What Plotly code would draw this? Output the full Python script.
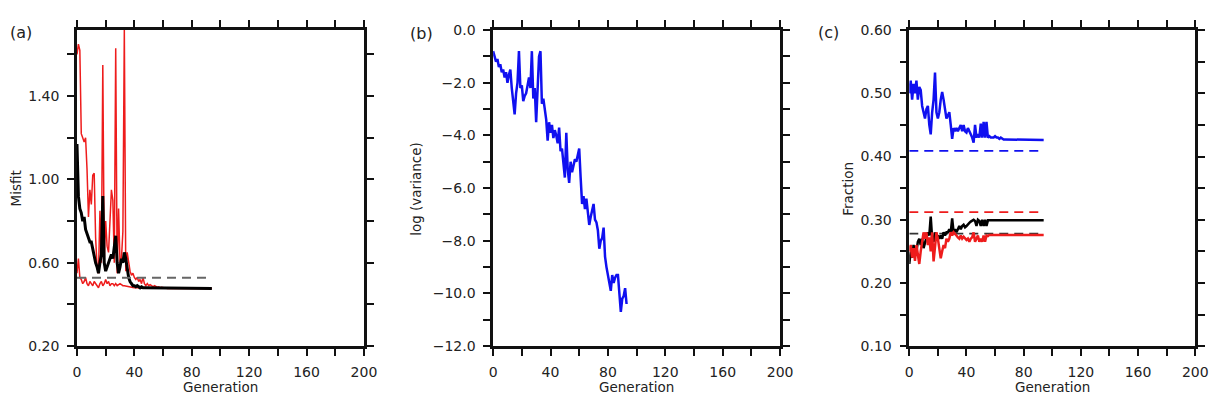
import plotly.graph_objects as go

W, H = 1226, 406

generations = list(range(95))
generations_b = list(range(94))

# Panel (a): misfit
misfit_black = [1.17,0.92,0.86,0.84,0.80,0.82,0.76,0.74,0.72,0.70,
                0.70,0.66,0.64,0.60,0.58,0.55,0.60,0.64,0.92,0.60,
                0.56,0.58,0.61,0.63,0.64,0.62,0.68,0.73,0.60,0.55,
                0.58,0.62,0.60,0.65,0.62,0.57,0.53,0.51,0.50,0.49,
                0.49,0.485,0.49,0.485,0.48,0.485,0.48,0.48,0.48,0.478,
                0.478,0.478,0.478,0.477,0.478,0.477,0.477,0.477,0.477,0.477,
                0.477,0.477,0.477,0.477,0.477,0.477,0.477,0.477,0.477,0.477,
                0.477,0.477,0.477,0.477,0.477,0.477,0.477,0.477,0.477,0.477,
                0.477,0.477,0.477,0.477,0.477,0.477,0.477,0.477,0.477,0.477,
                0.477,0.477,0.477,0.477,0.477]
misfit_red_upper = [1.60,1.65,1.62,1.22,1.20,1.18,1.20,1.05,0.82,0.95,
                    0.88,1.02,1.03,0.72,0.58,0.55,0.85,0.60,1.55,0.62,
                    0.80,0.68,0.65,0.78,0.95,0.90,0.60,1.63,0.55,0.86,
                    0.60,0.62,0.75,1.717,0.56,0.65,0.60,0.56,0.54,0.55,
                    0.53,0.52,0.53,0.51,0.52,0.50,0.53,0.50,0.49,0.50,
                    0.49,0.495,0.49,0.485,0.49,0.485,0.483,0.485,0.48,0.482,
                    0.48,0.479,0.478,0.477,0.477,0.477,0.477,0.477,0.477,0.477,
                    0.477,0.477,0.477,0.477,0.477,0.477,0.477,0.477,0.477,0.477,
                    0.477,0.477,0.477,0.477,0.477,0.477,0.477,0.477,0.477,0.477,
                    0.477,0.477,0.477,0.477,0.477]
misfit_red_lower = [0.55,0.62,0.53,0.52,0.50,0.51,0.53,0.50,0.49,0.51,
                    0.50,0.49,0.51,0.50,0.49,0.48,0.50,0.51,0.49,0.50,
                    0.52,0.50,0.51,0.49,0.50,0.50,0.49,0.50,0.49,0.495,
                    0.50,0.495,0.49,0.49,0.488,0.486,0.485,0.483,0.482,0.481,
                    0.48,0.48,0.479,0.479,0.478,0.478,0.478,0.478,0.478,0.478,
                    0.477,0.477,0.477,0.477,0.477,0.477,0.477,0.477,0.477,0.477,
                    0.477,0.477,0.477,0.477,0.477,0.477,0.477,0.477,0.477,0.477,
                    0.477,0.477,0.477,0.477,0.477,0.477,0.477,0.477,0.477,0.477,
                    0.477,0.477,0.477,0.477,0.477,0.477,0.477,0.477,0.477,0.477,
                    0.477,0.477,0.477,0.477,0.477]
misfit_ref = 0.528

# Panel (b): log(variance)
log_variance = [-0.8,-1.0,-1.2,-1.1,-1.4,-1.3,-1.6,-1.5,-1.8,-1.6,
                -2.0,-1.7,-1.5,-2.2,-2.8,-3.2,-2.4,-2.0,-0.8,-2.2,
                -2.1,-2.7,-2.5,-2.4,-2.1,-1.8,-2.2,-0.8,-2.6,-2.2,
                -3.5,-2.3,-1.0,-0.8,-2.8,-2.6,-3.0,-3.4,-4.2,-3.5,
                -3.9,-3.6,-4.1,-3.8,-4.0,-4.3,-3.7,-4.6,-4.5,-5.0,
                -5.6,-3.9,-5.3,-5.8,-5.0,-5.4,-5.1,-4.9,-5.0,-4.8,
                -4.5,-5.6,-6.6,-6.3,-6.8,-6.4,-7.0,-7.4,-7.1,-6.9,
                -6.6,-7.2,-7.3,-7.6,-8.3,-8.0,-7.9,-7.5,-8.6,-9.0,
                -9.3,-9.6,-9.9,-9.3,-9.6,-9.4,-9.3,-9.3,-10.0,-10.7,
                -10.2,-10.1,-9.8,-10.4]

# Panel (c): fractions
frac_blue = [0.50,0.52,0.49,0.515,0.50,0.52,0.49,0.51,0.505,0.48,
             0.47,0.46,0.475,0.48,0.45,0.435,0.47,0.49,0.533,0.47,
             0.46,0.47,0.49,0.502,0.49,0.47,0.46,0.465,0.47,0.45,
             0.428,0.445,0.44,0.445,0.44,0.445,0.45,0.44,0.45,0.44,
             0.438,0.445,0.44,0.435,0.43,0.422,0.45,0.43,0.435,0.43,
             0.452,0.43,0.455,0.43,0.455,0.43,0.432,0.43,0.43,0.43,
             0.432,0.43,0.43,0.428,0.43,0.428,0.427,0.427,0.427,0.427,
             0.427,0.427,0.426,0.426,0.426,0.426,0.426,0.426,0.426,0.426,
             0.426,0.426,0.426,0.426,0.426,0.426,0.426,0.426,0.426,0.426,
             0.426,0.426,0.426,0.426,0.426]
frac_black = [0.23,0.25,0.24,0.26,0.245,0.25,0.265,0.27,0.26,0.27,
              0.255,0.265,0.27,0.28,0.275,0.305,0.27,0.265,0.28,0.27,
              0.275,0.27,0.275,0.27,0.28,0.275,0.28,0.28,0.285,0.28,
              0.302,0.28,0.285,0.28,0.285,0.29,0.285,0.29,0.292,0.288,
              0.29,0.293,0.295,0.297,0.298,0.30,0.298,0.29,0.30,0.298,
              0.29,0.30,0.29,0.30,0.29,0.299,0.299,0.299,0.299,0.299,
              0.299,0.299,0.299,0.299,0.299,0.299,0.299,0.299,0.299,0.299,
              0.299,0.299,0.299,0.299,0.299,0.299,0.299,0.299,0.299,0.299,
              0.299,0.299,0.299,0.299,0.299,0.299,0.299,0.299,0.299,0.299,
              0.299,0.299,0.299,0.299,0.299]
frac_red = [0.25,0.26,0.24,0.255,0.235,0.26,0.245,0.23,0.25,0.27,
            0.28,0.27,0.28,0.26,0.272,0.25,0.28,0.234,0.26,0.28,
            0.27,0.25,0.239,0.25,0.26,0.255,0.27,0.265,0.27,0.28,
            0.275,0.28,0.278,0.275,0.272,0.27,0.275,0.27,0.273,0.27,
            0.268,0.27,0.265,0.27,0.272,0.28,0.265,0.27,0.275,0.265,
            0.27,0.265,0.275,0.265,0.275,0.274,0.276,0.276,0.276,0.276,
            0.276,0.276,0.276,0.276,0.276,0.276,0.276,0.276,0.276,0.276,
            0.276,0.276,0.276,0.276,0.276,0.276,0.276,0.276,0.276,0.276,
            0.276,0.276,0.276,0.276,0.276,0.276,0.276,0.276,0.276,0.276,
            0.276,0.276,0.276,0.276,0.276]
frac_ref_blue = 0.409
frac_ref_red = 0.312
frac_ref_black = 0.278

gen_ticks = [0, 20, 40, 60, 80, 100, 120, 140, 160, 180, 200]
gen_labels = ["0", "", "40", "", "80", "", "120", "", "160", "", "200"]
misfit_ticks = [0.2, 0.4, 0.6, 0.8, 1.0, 1.2, 1.4, 1.6]
misfit_labels = ["0.20", "", "0.60", "", "1.00", "", "1.40", ""]
var_ticks = [-12, -11, -10, -9, -8, -7, -6, -5, -4, -3, -2, -1, 0]
var_labels = ["\u221212.0", "", "\u221210.0", "", "\u22128.0", "", "\u22126.0", "", "\u22124.0", "", "\u22122.0", "", "0.0"]
frac_ticks = [0.10, 0.15, 0.20, 0.25, 0.30, 0.35, 0.40, 0.45, 0.50, 0.55, 0.60]
frac_labels = ["0.10", "", "0.20", "", "0.30", "", "0.40", "", "0.50", "", "0.60"]

FONT = "DejaVu Sans"
RED = "#ee1c1c"
BLUE = "#1010f0"
DASH = "9px,6px"

fig = go.Figure()

def line(x, y, ax, color, width, dash=None):
    fig.add_trace(go.Scatter(x=x, y=y, xaxis="x" + ax, yaxis="y" + ax, mode="lines",
                             line=dict(color=color, width=width, dash=dash),
                             showlegend=False, hoverinfo="skip"))

gx = [generations[0], generations[-1]]
# (a)
line(generations, misfit_red_upper, "", RED, 1.5)
line(generations, misfit_red_lower, "", RED, 1.5)
line(generations, misfit_black, "", "black", 3)
line(gx, [misfit_ref, misfit_ref], "", "#666666", 2, DASH)
# (b)
line(generations_b, log_variance, "2", BLUE, 2.5)
# (c)
line(gx, [frac_ref_blue, frac_ref_blue], "3", BLUE, 1.8, DASH)
line(gx, [frac_ref_red, frac_ref_red], "3", RED, 1.8, DASH)
line(gx, [frac_ref_black, frac_ref_black], "3", "#333333", 1.8, DASH)
line(generations, frac_blue, "3", BLUE, 2.5)
line(generations, frac_black, "3", "black", 2.5)
line(generations, frac_red, "3", RED, 2.5)

def px_x(p):
    return p / W

def px_y(p):
    return 1 - p / H

common = dict(showline=True, linecolor="#111111", linewidth=2.5, mirror="allticks",
              ticks="outside", ticklen=7, tickwidth=2, tickcolor="#111111",
              showgrid=False, zeroline=False, fixedrange=True,
              tickfont=dict(family=FONT, size=14, color="#222222"))

ydom = [px_y(352), px_y(23)]
xdoms = [[px_x(74), px_x(365)], [px_x(496), px_x(787)], [px_x(918), px_x(1208)]]

layout = dict(width=W, height=H, autosize=False, margin=dict(l=0, r=0, t=0, b=0),
              paper_bgcolor="white", plot_bgcolor="white", showlegend=False)

ymax_a = max(misfit_red_upper)
yspecs = [
    dict(range=[0.2, ymax_a], tickvals=misfit_ticks, ticktext=misfit_labels),
    dict(range=[-12, 0], tickvals=var_ticks, ticktext=var_labels),
    dict(range=[0.1, 0.6], tickvals=frac_ticks, ticktext=frac_labels),
]
for i, suf in enumerate(["", "2", "3"]):
    layout["xaxis" + suf] = dict(common, domain=xdoms[i], range=[0, 200], tickvals=gen_ticks,
                                 ticktext=gen_labels, anchor="y" + suf, ticklabelstandoff=4)
    layout["yaxis" + suf] = dict(common, domain=ydom, anchor="x" + suf, ticklabelstandoff=5,
                                 **yspecs[i])

annotations = []
def ann(text, x, y, size, angle=0):
    annotations.append(dict(text=text, x=px_x(x), y=px_y(y), xref="paper", yref="paper",
                            showarrow=False, textangle=angle, xanchor="center", yanchor="middle",
                            borderpad=0,
                            font=dict(family=FONT, size=size, color="#222222")))

for cx in [219.5, 641.5, 1063]:
    ann("Generation", cx, 395, 13.5)
ann("Misfit", 12, 188, 13.5, -90)
ann("log (variance)", 417, 188, 13.5, -90)
ann("Fraction", 855, 188, 13.5, -90)
ann("(a)", 17.5, 25.5, 16)
ann("(b)", 423.5, 26.5, 16)
ann("(c)", 836, 26, 16)
layout["annotations"] = annotations

fig.update_layout(**layout)
fig.write_html("out.html")
